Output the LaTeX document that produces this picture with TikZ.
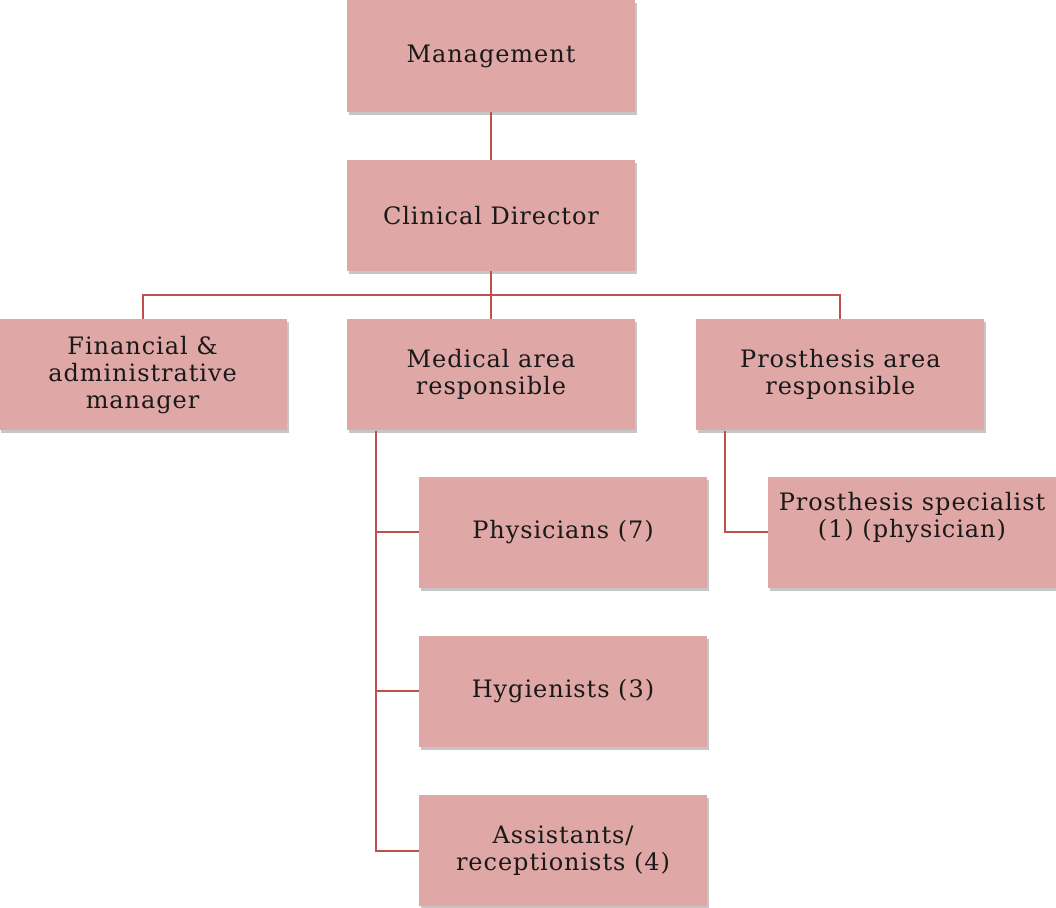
\documentclass[tikz,border=0pt]{standalone}
\usepackage{fontspec}
\setmainfont[LetterSpace=4]{DejaVu Serif}
\usepackage{tikz}
\usetikzlibrary{positioning,shadows}
\definecolor{boxpink}{RGB}{223,167,165}
\definecolor{linkred}{RGB}{192,80,77}
\tikzset{
    chart/.style={x=1pt,y=-1pt,node distance=48pt and 60pt,
                  font=\fontsize{24}{27}\selectfont},
    post/.style={rectangle,fill=boxpink,minimum width=288pt,minimum height=111pt,
                 inner sep=0pt,align=center,text=black!90,
                 drop shadow={shadow xshift=2pt,shadow yshift=-3pt,opacity=0.45}},
    link/.style={draw=linkred,line width=2pt},
    }
\begin{document}
\begin{tikzpicture}[chart]
    \useasboundingbox (0,0) rectangle (1056,907);
    \node[post] (mgmt) at (491,56) {Management};
    \node[post] (clin) [below=of mgmt] {Clinical Director};
    \node[post] (med) [below=of clin] {Medical area\\responsible};
    \node[post] (fin) [left=of med] {Financial \&\\administrative\\manager};
    \node[post] (pros) [right=61pt of med] {Prosthesis area\\responsible};
    \node[post] (phys) at (563,532) {Physicians (7)};
    \node[post] (hyg) [below=of phys] {Hygienists (3)};
    \node[post] (asst) [below=of hyg] {Assistants/\\receptionists (4)};
    \node[post] (spec) at (912,532) {Prosthesis specialist\\(1) (physician)\\ \strut};

    \draw[link] (mgmt) -- (clin);
    \draw[link] (clin.south) -- ++(0,24) -| (fin);
    \draw[link] (clin.south) -- ++(0,24) -| (pros);
    \draw[link] (clin) -- (med);
    \draw[link] ([xshift=29pt]med.south west) |- (phys);
    \draw[link] ([xshift=29pt]med.south west) |- (hyg);
    \draw[link] ([xshift=29pt]med.south west) |- (asst);
    \draw[link] ([xshift=29pt]pros.south west) |- (spec);
\end{tikzpicture}
\end{document}
